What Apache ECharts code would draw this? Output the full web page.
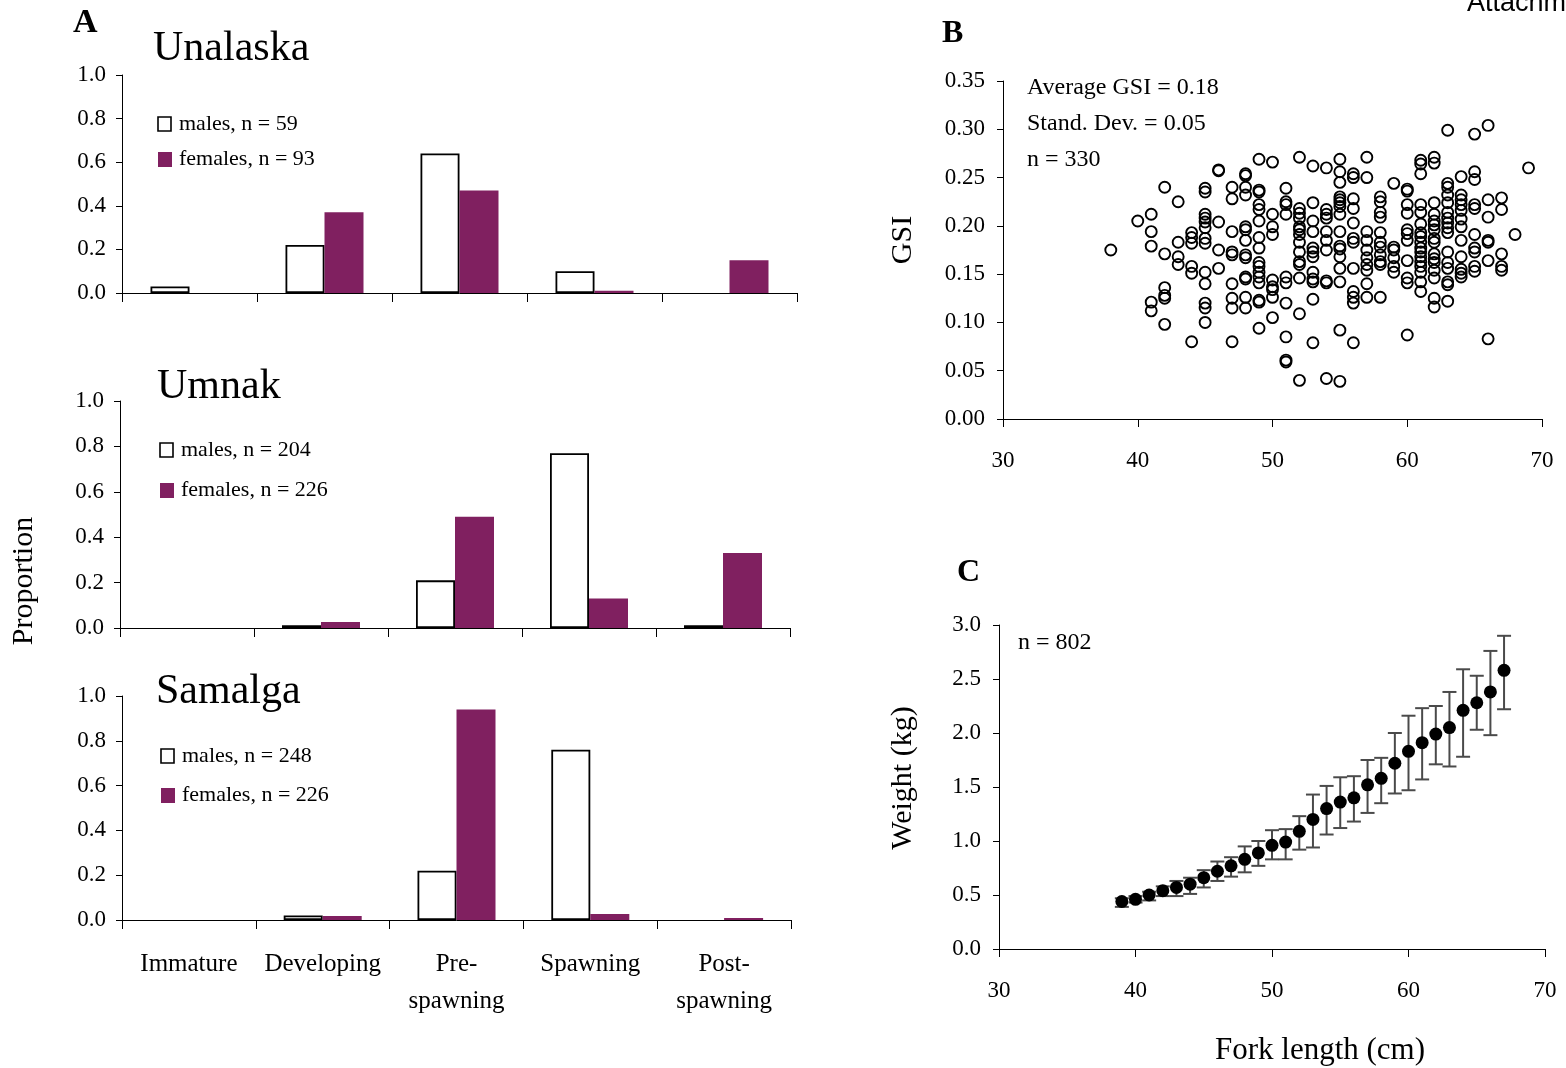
<!DOCTYPE html>
<html>
<head>
<meta charset="utf-8">
<script src="https://cdn.jsdelivr.net/npm/echarts@6.0.0/dist/echarts.min.js"></script>
<style>
html,body{margin:0;padding:0;background:#fff;}
#chart{width:1566px;height:1068px;}
</style>
</head>
<body>
<div id="chart"></div>
<script>
// ---------- Panel A data ----------
const stages = ['Immature', 'Developing', 'Pre-\nspawning', 'Spawning', 'Post-\nspawning'];
const regions = ['Unalaska', 'Umnak', 'Samalga'];
const maleLabels = ['males, n = 59', 'males, n = 204', 'males, n = 248'];
const femaleLabels = ['females, n = 93', 'females, n = 226', 'females, n = 226'];
const unalaskaMales = [0.03, 0.22, 0.64, 0.10, 0];
const unalaskaFemales = [0, 0.37, 0.47, 0.01, 0.15];
const umnakMales = [0, 0.012, 0.21, 0.77, 0.012];
const umnakFemales = [0, 0.026, 0.49, 0.13, 0.33];
const samalgaMales = [0, 0.02, 0.22, 0.76, 0];
const samalgaFemales = [0, 0.018, 0.94, 0.027, 0.009];
const proportionTicks = [0, 0.2, 0.4, 0.6, 0.8, 1.0];

// ---------- Panel B data (GSI vs fork length) ----------
const gsiLengths = [38, 40, 41, 42, 43, 44, 45, 46, 47, 48, 49, 50, 51, 52, 53, 54, 55, 56, 57, 58, 59, 60, 61, 62, 63, 64, 65, 66, 67, 68, 69];
const gsiValues = [
  [0.175],
  [0.205],
  [0.212, 0.194, 0.179, 0.121, 0.112],
  [0.240, 0.171, 0.136, 0.128, 0.125, 0.098],
  [0.225, 0.183, 0.168, 0.160],
  [0.193, 0.188, 0.182, 0.158, 0.151, 0.080],
  [0.239, 0.235, 0.212, 0.208, 0.204, 0.198, 0.187, 0.182, 0.152, 0.140, 0.120, 0.115, 0.100],
  [0.258, 0.257, 0.204, 0.175, 0.156],
  [0.240, 0.228, 0.194, 0.173, 0.170, 0.140, 0.125, 0.115, 0.080],
  [0.254, 0.252, 0.240, 0.232, 0.199, 0.196, 0.185, 0.170, 0.167, 0.147, 0.145, 0.126, 0.115],
  [0.269, 0.237, 0.235, 0.222, 0.217, 0.205, 0.188, 0.177, 0.162, 0.158, 0.152, 0.147, 0.141, 0.123, 0.121, 0.094],
  [0.266, 0.212, 0.199, 0.191, 0.144, 0.137, 0.134, 0.126, 0.105],
  [0.239, 0.225, 0.222, 0.212, 0.147, 0.141, 0.120, 0.085, 0.061, 0.059],
  [0.271, 0.218, 0.213, 0.208, 0.199, 0.196, 0.191, 0.183, 0.173, 0.163, 0.160, 0.146, 0.109, 0.040],
  [0.262, 0.224, 0.205, 0.194, 0.177, 0.173, 0.168, 0.152, 0.145, 0.142, 0.124, 0.079],
  [0.260, 0.217, 0.212, 0.208, 0.194, 0.185, 0.175, 0.143, 0.141, 0.042],
  [0.269, 0.256, 0.245, 0.230, 0.227, 0.224, 0.220, 0.212, 0.194, 0.179, 0.176, 0.168, 0.156, 0.142, 0.092, 0.039],
  [0.254, 0.250, 0.228, 0.218, 0.203, 0.187, 0.183, 0.156, 0.132, 0.126, 0.120, 0.079],
  [0.271, 0.250, 0.194, 0.185, 0.175, 0.167, 0.160, 0.154, 0.140, 0.126],
  [0.230, 0.225, 0.214, 0.209, 0.193, 0.183, 0.178, 0.170, 0.163, 0.160, 0.126],
  [0.244, 0.178, 0.175, 0.167, 0.158, 0.152],
  [0.238, 0.236, 0.222, 0.213, 0.196, 0.192, 0.185, 0.164, 0.146, 0.141, 0.087],
  [0.268, 0.264, 0.254, 0.222, 0.214, 0.202, 0.193, 0.189, 0.183, 0.177, 0.173, 0.168, 0.163, 0.158, 0.152, 0.142, 0.132],
  [0.271, 0.265, 0.224, 0.212, 0.205, 0.201, 0.196, 0.187, 0.183, 0.171, 0.166, 0.162, 0.154, 0.146, 0.125, 0.116],
  [0.299, 0.244, 0.240, 0.232, 0.224, 0.214, 0.208, 0.203, 0.198, 0.193, 0.173, 0.162, 0.156, 0.142, 0.139, 0.122],
  [0.251, 0.232, 0.227, 0.222, 0.216, 0.207, 0.199, 0.185, 0.168, 0.155, 0.151, 0.147],
  [0.295, 0.256, 0.248, 0.222, 0.218, 0.191, 0.177, 0.173, 0.158, 0.153],
  [0.304, 0.227, 0.209, 0.185, 0.183, 0.164, 0.083],
  [0.229, 0.217, 0.171, 0.158, 0.154],
  [0.191],
  [0.260]
];
const gsiXTicks = [30, 40, 50, 60, 70];
const gsiYTicks = [0, 0.05, 0.10, 0.15, 0.20, 0.25, 0.30, 0.35];

// ---------- Panel C data (weight vs fork length) ----------
const weightLengths = [39, 40, 41, 42, 43, 44, 45, 46, 47, 48, 49, 50, 51, 52, 53, 54, 55, 56, 57, 58, 59, 60, 61, 62, 63, 64, 65, 66, 67];
const weightMean = [0.44, 0.46, 0.50, 0.54, 0.57, 0.60, 0.66, 0.72, 0.77, 0.83, 0.89, 0.96, 0.99, 1.09, 1.20, 1.30, 1.36, 1.40, 1.52, 1.58, 1.72, 1.83, 1.91, 1.99, 2.05, 2.21, 2.28, 2.38, 2.58];
const weightHigh = [0.47, 0.49, 0.53, 0.58, 0.63, 0.66, 0.73, 0.81, 0.85, 0.95, 1.00, 1.10, 1.11, 1.23, 1.43, 1.51, 1.59, 1.60, 1.75, 1.77, 2.00, 2.16, 2.23, 2.25, 2.38, 2.59, 2.53, 2.76, 2.90];
const weightLow = [0.39, 0.43, 0.45, 0.49, 0.49, 0.51, 0.57, 0.63, 0.67, 0.71, 0.77, 0.83, 0.83, 0.92, 0.94, 1.06, 1.12, 1.18, 1.26, 1.35, 1.44, 1.47, 1.57, 1.71, 1.69, 1.78, 2.03, 1.98, 2.22];

// ---------- Build option ----------
const SERIF = '"Liberation Serif", "Times New Roman", serif';
const FEMALE = '#802060';
const males = [unalaskaMales, umnakMales, samalgaMales];
const females = [unalaskaFemales, umnakFemales, samalgaFemales];

const barGrids = [
  {left: 122, top: 75, width: 675, height: 218},
  {left: 120, top: 401, width: 670, height: 227},
  {left: 122, top: 696, width: 669, height: 224}
];
const grids = barGrids.concat([
  {left: 1003, top: 81, width: 539, height: 338},
  {left: 999, top: 625, width: 546, height: 324}
]);

const axisLineStyle = {show: true, lineStyle: {color: '#000', width: 1}};
const xAxes = [], yAxes = [], series = [];

for (let r = 0; r < 3; r++) {
  xAxes.push({
    type: 'category', gridIndex: r, data: stages,
    boundaryGap: true,
    axisLine: axisLineStyle,
    axisTick: {show: true, alignWithLabel: false, length: 9, lineStyle: {color: '#000'}},
    axisLabel: {show: r === 2, color: '#000', fontFamily: SERIF, fontSize: 25, margin: 26, lineHeight: 37, interval: 0},
    splitLine: {show: false}
  });
  yAxes.push({
    type: 'value', gridIndex: r, min: proportionTicks[0], max: proportionTicks[proportionTicks.length - 1], interval: 0.2,
    axisLine: axisLineStyle,
    axisTick: {show: true, length: 6, lineStyle: {color: '#000'}},
    axisLabel: {color: '#000', fontFamily: SERIF, fontSize: 23, margin: 16, formatter: v => v.toFixed(1)},
    splitLine: {show: false}
  });
  series.push({
    type: 'bar', xAxisIndex: r, yAxisIndex: r, data: males[r].map(v => v === 0 ? null : v),
    barWidth: 39, barGap: '0%',
    itemStyle: {color: '#fff', borderColor: '#000', borderWidth: 1.8},
    silent: true, animation: false
  });
  series.push({
    type: 'bar', xAxisIndex: r, yAxisIndex: r, data: females[r].map(v => v === 0 ? null : v),
    barWidth: 39, barGap: '0%',
    itemStyle: {color: FEMALE},
    silent: true, animation: false
  });
}

// Panel B axes
xAxes.push({
  type: 'value', gridIndex: 3, min: 30, max: 70, interval: 10,
  axisLine: axisLineStyle,
  axisTick: {show: true, length: 8, lineStyle: {color: '#000'}},
  axisLabel: {color: '#000', fontFamily: SERIF, fontSize: 23, margin: 30},
  splitLine: {show: false}
});
yAxes.push({
  type: 'value', gridIndex: 3, min: 0, max: 0.35, interval: 0.05,
  axisLine: axisLineStyle,
  axisTick: {show: true, length: 6, lineStyle: {color: '#000'}},
  axisLabel: {color: '#000', fontFamily: SERIF, fontSize: 23, margin: 18, formatter: v => v.toFixed(2)},
  splitLine: {show: false}
});
// Panel C axes
xAxes.push({
  type: 'value', gridIndex: 4, min: 30, max: 70, interval: 10,
  axisLine: axisLineStyle,
  axisTick: {show: true, length: 8, lineStyle: {color: '#000'}},
  axisLabel: {color: '#000', fontFamily: SERIF, fontSize: 23, margin: 30},
  splitLine: {show: false}
});
yAxes.push({
  type: 'value', gridIndex: 4, min: 0, max: 3, interval: 0.5,
  axisLine: axisLineStyle,
  axisTick: {show: true, length: 6, lineStyle: {color: '#000'}},
  axisLabel: {color: '#000', fontFamily: SERIF, fontSize: 23, margin: 18, formatter: v => v.toFixed(1)},
  splitLine: {show: false}
});

// scatter B
const gsiPoints = [];
gsiLengths.forEach((len, i) => gsiValues[i].forEach(g => gsiPoints.push([len, g])));
series.push({
  type: 'scatter', xAxisIndex: 3, yAxisIndex: 3, data: gsiPoints,
  symbol: 'circle', symbolSize: 11,
  itemStyle: {color: 'rgba(255,255,255,0)', borderColor: '#000', borderWidth: 1.9, opacity: 1},
  silent: true, animation: false
});

// error bars C
series.push({
  type: 'custom', xAxisIndex: 4, yAxisIndex: 4,
  data: weightLengths.map((l, i) => [l, weightLow[i], weightHigh[i]]),
  renderItem: function (params, api) {
    const x = api.value(0);
    const lo = api.coord([x, api.value(1)]);
    const hi = api.coord([x, api.value(2)]);
    const hw = 7;
    const st = {stroke: '#4a4a4a', lineWidth: 2};
    return {
      type: 'group',
      children: [
        {type: 'line', shape: {x1: lo[0], y1: lo[1], x2: hi[0], y2: hi[1]}, style: st},
        {type: 'line', shape: {x1: lo[0] - hw, y1: lo[1], x2: lo[0] + hw, y2: lo[1]}, style: st},
        {type: 'line', shape: {x1: hi[0] - hw, y1: hi[1], x2: hi[0] + hw, y2: hi[1]}, style: st}
      ]
    };
  },
  silent: true, animation: false, z: 2
});
series.push({
  type: 'scatter', xAxisIndex: 4, yAxisIndex: 4,
  data: weightLengths.map((l, i) => [l, weightMean[i]]),
  symbol: 'circle', symbolSize: 13,
  itemStyle: {color: '#000', opacity: 1},
  silent: true, animation: false, z: 3
});

// ---------- text graphics ----------
function txt(text, x, y, size, opts) {
  opts = opts || {};
  return {
    type: 'text', x: x, y: y, rotation: opts.rotation || 0, silent: true,
    style: {
      text: text, fill: '#000',
      font: (opts.bold ? 'bold ' : '') + size + 'px ' + (opts.family || SERIF),
      textAlign: opts.align || 'left', textVerticalAlign: 'middle'
    }
  };
}
const graphics = [];
graphics.push(txt('A', 73, 23, 34, {bold: true}));
graphics.push(txt('B', 942, 34, 32, {bold: true}));
graphics.push(txt('C', 957, 573, 32, {bold: true}));
graphics.push(txt('Attachment', 1467, 4, 27, {family: '"Liberation Sans", Arial, sans-serif'}));

const titlePos = [[153, 49], [157, 387], [156, 692]];
const legendPos = [[158, 124, 159], [160, 450, 490], [161, 756, 795]];
for (let r = 0; r < 3; r++) {
  graphics.push(txt(regions[r], titlePos[r][0], titlePos[r][1], 42));
  const lp = legendPos[r];
  graphics.push({type: 'rect', shape: {x: lp[0], y: lp[1] - 7, width: 13, height: 14}, style: {fill: '#fff', stroke: '#000', lineWidth: 1.6}, silent: true});
  graphics.push({type: 'rect', shape: {x: lp[0], y: lp[2] - 7, width: 14, height: 15}, style: {fill: FEMALE}, silent: true});
  graphics.push(txt(maleLabels[r], lp[0] + 21, lp[1], 22));
  graphics.push(txt(femaleLabels[r], lp[0] + 21, lp[2], 22));
}
graphics.push(txt('Proportion', 24, 581, 30, {rotation: Math.PI / 2, align: 'center'}));
graphics.push(txt('GSI', 903, 240, 30, {rotation: Math.PI / 2, align: 'center'}));
graphics.push(txt('Weight (kg)', 903, 778, 30, {rotation: Math.PI / 2, align: 'center'}));
graphics.push(txt('Fork length (cm)', 1320, 1051, 31, {align: 'center'}));
graphics.push(txt('Average GSI = 0.18', 1027, 88, 24));
graphics.push(txt('Stand. Dev. = 0.05', 1027, 124, 24));
graphics.push(txt('n = 330', 1027, 160, 24));
graphics.push(txt('n = 802', 1018, 643, 24));

const option = {
  backgroundColor: '#fff',
  animation: false,
  grid: grids,
  xAxis: xAxes,
  yAxis: yAxes,
  series: series,
  graphic: graphics
};
const chart = echarts.init(document.getElementById('chart'), null, {renderer: 'canvas'});
chart.setOption(option);
</script>
</body>
</html>
